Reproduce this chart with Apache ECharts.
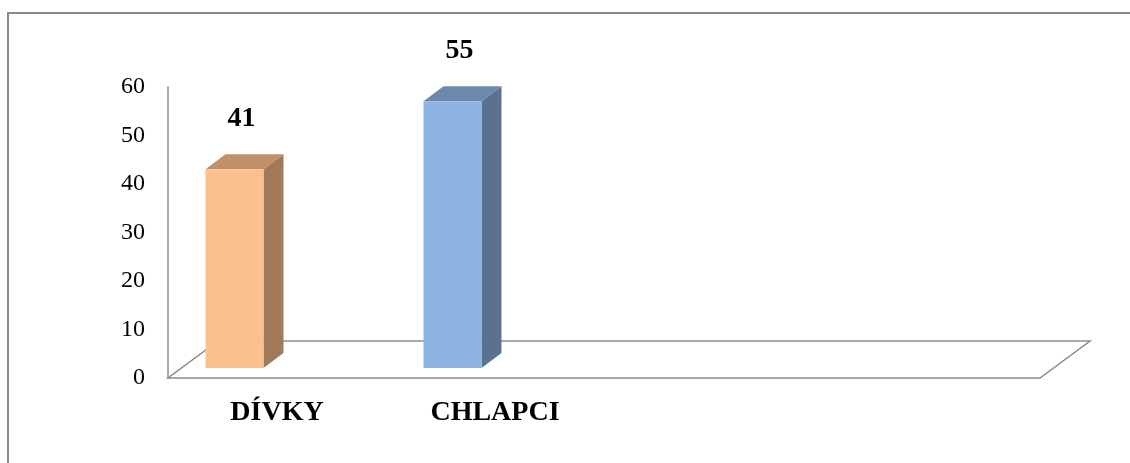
<!DOCTYPE html>
<html>
<head>
<meta charset="utf-8">
<script src="https://cdn.jsdelivr.net/npm/echarts@6/dist/echarts.min.js"></script>
<style>html,body{margin:0;padding:0;background:#fff}#c{width:1130px;height:463px}</style>
</head>
<body>
<div id="c"></div>
<script>
const categories = ['DÍVKY', 'CHLAPCI', '', ''];
const values = [41, 55];
const frontColors = ['#FAC090', '#8EB4E3'];
const topColors = ['#C0906A', '#6B88AD'];
const sideColors = ['#A07A5A', '#5A7190'];
const yTicks = { min: 0, max: 60, interval: 10 };

const FONT = '"Liberation Serif", "Times New Roman", serif';
const chart = echarts.init(document.getElementById('c'));

function renderBar(params, api) {
  const i = api.value(0), v = api.value(1);
  const band = api.size([1, 0])[0];
  const base = api.coord([i, 0]);
  const top = api.coord([i, v]);
  const w = band * 0.266;
  const cx = base[0] - band * 0.195;
  const x0 = cx - w / 2, x1 = cx + w / 2;
  const yb = base[1] - 10, yt = top[1] - 10;
  const dx = 20, dy = -15;
  return {
    type: 'group',
    children: [
      { type: 'polygon', shape: { points: [[x1, yb], [x1 + dx, yb + dy], [x1 + dx, yt + dy], [x1, yt]] }, style: { fill: sideColors[i] } },
      { type: 'polygon', shape: { points: [[x0, yt], [x0 + dx, yt + dy], [x1 + dx, yt + dy], [x1, yt]] }, style: { fill: topColors[i] } },
      { type: 'rect', shape: { x: x0, y: yt, width: w, height: yb - yt }, style: { fill: frontColors[i] } },
      { type: 'text', style: { text: String(v), x: cx + 7, y: yt + dy - 35, textAlign: 'center', textVerticalAlign: 'middle', font: 'bold 28px ' + FONT, fill: '#000' } }
    ]
  };
}

function renderFloor(params, api) {
  const cs = params.coordSys;
  const xl = cs.x, xr = cs.x + cs.width, yf = cs.y + cs.height;
  const dx = 50, dy = -37;
  return {
    type: 'polygon',
    shape: { points: [[xl, yf], [xr, yf], [xr + dx, yf + dy], [xl + dx, yf + dy]] },
    style: { fill: 'none', stroke: '#8c8c8c', lineWidth: 1.5 }
  };
}

chart.setOption({
  animation: false,
  backgroundColor: '#fff',
  grid: { left: 168, right: 90, top: 87, bottom: 85 },
  graphic: [{ type: 'rect', shape: { x: 8, y: 13, width: 1300, height: 700 }, style: { fill: 'none', stroke: '#8a8a8a', lineWidth: 2 }, z: -10 }],
  xAxis: {
    type: 'category', data: categories,
    axisLine: { show: false }, axisTick: { show: false }, splitLine: { show: false },
    axisLabel: { margin: 21, color: '#000', fontFamily: FONT, fontWeight: 'bold', fontSize: 28, interval: 0 }
  },
  yAxis: {
    type: 'value', min: yTicks.min, max: yTicks.max, interval: yTicks.interval,
    axisLine: { show: true, lineStyle: { color: '#8c8c8c', width: 1.5 } },
    axisTick: { show: false }, splitLine: { show: false },
    axisLabel: { margin: 23, color: '#000', fontFamily: FONT, fontSize: 24 }
  },
  series: [
    { type: 'custom', renderItem: renderFloor, data: [[0, 0]], z: 1, silent: true },
    { type: 'custom', renderItem: renderBar, data: values.map((v, i) => [i, v]), z: 2 }
  ]
});
</script>
</body>
</html>
